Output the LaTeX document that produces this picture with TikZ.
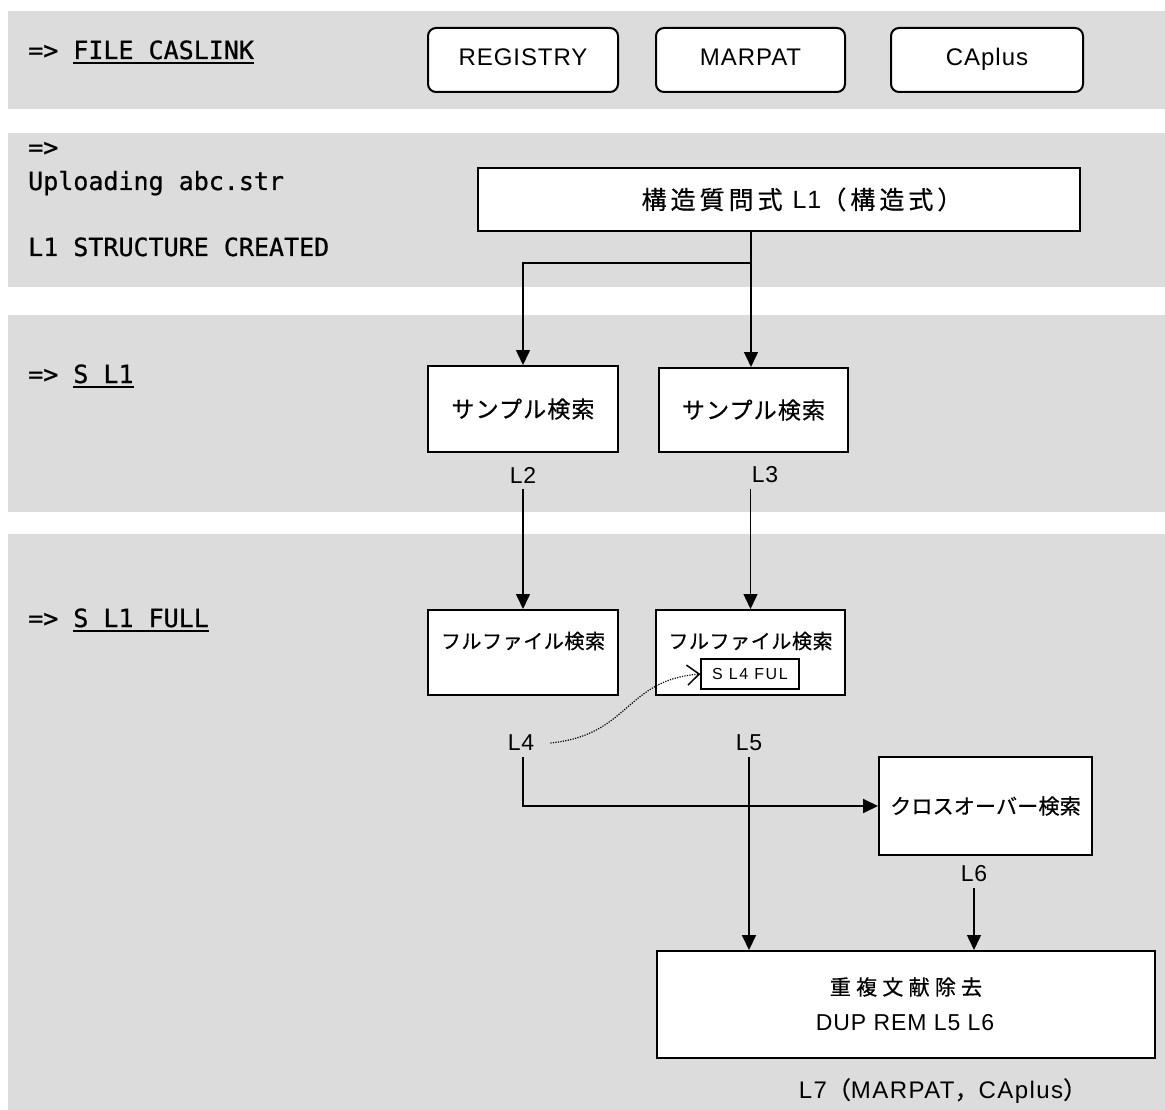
\documentclass[tikz,border=0pt]{standalone}
\usepackage{fontspec}
\setmainfont{Liberation Sans}
\newfontfamily\jpfont[FakeBold=0.6]{Noto Sans CJK JP}
\newfontfamily\latfont[LetterSpace=4]{Liberation Sans}
\newfontfamily\cmdfont[FakeBold=0.8]{DejaVu Sans Mono}
\usetikzlibrary{arrows.meta}
\definecolor{bandgray}{RGB}{220,220,220}
\newsavebox\ulbox
\newcommand{\cmdul}[1]{\sbox\ulbox{#1}\rlap{\rule[-5pt]{\wd\ulbox}{2pt}}\usebox\ulbox}
\newcommand{\jpsize}[2]{\jpfont\fontsize{#1}{#1}\selectfont\addfontfeatures{LetterSpace=#2}}
\begin{document}
\begin{tikzpicture}[x=1pt, y=-1pt,
    box/.style={draw, line width=2pt, fill=white, inner sep=0pt},
    dbbox/.style={box, rounded corners=8pt, minimum height=64pt, text height=17pt, text depth=5pt,
        font=\latfont\fontsize{24}{28}\selectfont},
    cmd/.style={anchor=base west, inner sep=0pt, font=\cmdfont\fontsize{25}{30}\selectfont},
    ltxt/.style={inner sep=0pt, font=\latfont\fontsize{23}{28}\selectfont},
    flow/.style={line width=2pt, -{Triangle[width=14pt,length=15pt]}},
    thinflow/.style={line width=1.5pt, -{Triangle[width=14pt,length=15pt]}}]
    \useasboundingbox (0,0) rectangle (1165,1110);
    \fill[bandgray] (8,11) rectangle (1165,109);
    \fill[bandgray] (8,133) rectangle (1165,287);
    \fill[bandgray] (8,315) rectangle (1165,512);
    \fill[bandgray] (8,534) rectangle (1165,1110);

    \node[cmd] (cmdfile) at (28,59) {=> \cmdul{FILE CASLINK}};
    \node[cmd] (upload1) at (28,156) {=>};
    \node[cmd] (upload2) at (28,190) {Uploading abc.str};
    \node[cmd] (upload3) at (28,256) {L1 STRUCTURE CREATED};
    \node[cmd] (cmdsample) at (28,383) {=> \cmdul{S L1}};
    \node[cmd] (cmdfull) at (28,627) {=> \cmdul{S L1 FULL}};

    \node[dbbox, minimum width=190pt] (registry) at (523,60) {REGISTRY};
    \node[dbbox, minimum width=189pt] (marpat) at (750.5,60) {MARPAT};
    \node[dbbox, minimum width=192pt] (caplus) at (987,60) {CAplus};

    \node[box, minimum width=602pt, minimum height=63pt, font=\jpsize{25}{16}] (query) at (779,199.5)
        {\hspace*{46pt}構造質問式\hspace{0.4em}{\latfont\fontsize{25}{28}\selectfont L1}（構造式）};
    \coordinate (split) at (751,263);

    \node[box, minimum width=190pt, minimum height=86pt, font=\jpsize{23}{5}] (samp1) at (523,409) {サンプル検索};
    \node[box, minimum width=189pt, minimum height=84pt, font=\jpsize{23}{5}] (samp2) at (753.5,410) {サンプル検索};
    \node[ltxt] (l2) at (523,475) {L2};
    \node[ltxt] (l3) at (765,475) {L3};

    \node[box, minimum width=190pt, minimum height=85pt] (full1) at (523,652.5) {};
    \node[inner sep=0pt, font=\jpsize{20}{3}] (full1txt) at (523,641) {フルファイル検索};
    \node[box, minimum width=189pt, minimum height=85pt] (full2) at (750.5,652.5) {};
    \node[inner sep=0pt, font=\jpsize{20}{3}] (full2txt) at (750.5,641) {フルファイル検索};
    \node[box, line width=1.3pt, minimum width=98pt, minimum height=30pt, font=\latfont\fontsize{16}{18}\selectfont\addfontfeatures{LetterSpace=10}] (fulcmd) at (750,674) {S L4 FUL};
    \node[ltxt] (l4) at (521,743) {L4};
    \node[ltxt] (l5) at (749,743) {L5};
    \coordinate (l4bend) at (523,806);

    \node[box, minimum width=213pt, minimum height=98pt, font=\jpsize{21}{1}] (cross) at (985.5,806) {クロスオーバー検索};
    \node[ltxt] (l6) at (974,874) {L6};

    \node[box, minimum width=498pt, minimum height=107pt] (dup) at (906,1004.5) {};
    \node[inner sep=0pt, font=\jpsize{21}{25}] (dupjp) at (906,987) {重複文献除去};
    \node[ltxt] (duplat) at (905,1023) {DUP REM L5 L6};
    \node[ltxt, font=\latfont\fontsize{24}{28}\selectfont\addfontfeatures{LetterSpace=6}] (l7) at (943,1091)
        {L7{\jpfont（}MARPAT{\jpfont，}CAplus{\jpfont）}};

    \draw[line width=1.5pt] (query.south -| split) -- (split);
    \draw[thinflow] (split) -| (samp1.north);
    \draw[thinflow] (split) -- (samp2.north -| split);
    \draw[thinflow] ([yshift=-6pt]l2.south) -- (l2.south |- full1.north);
    \draw[thinflow] ([yshift=-6pt]l3.south -| full2) -- (full2.north);
    \draw[line width=1.2pt, dash pattern=on 1.2pt off 1.3pt, -{Straight Barb[length=12pt,width=20pt,line width=1.5pt]}]
        ([xshift=16pt]l4.east) .. controls (630,735) and (625,680) .. (fulcmd.west);
    \draw[flow] ([yshift=-6pt]l4.south -| l4bend) -- (l4bend) -- (cross.west);
    \draw[flow] ([yshift=-6pt]l5.south) -- (l5.south |- dup.north);
    \draw[thinflow] ([yshift=-6pt]l6.south) -- (l6.south |- dup.north);
\end{tikzpicture}
\end{document}
